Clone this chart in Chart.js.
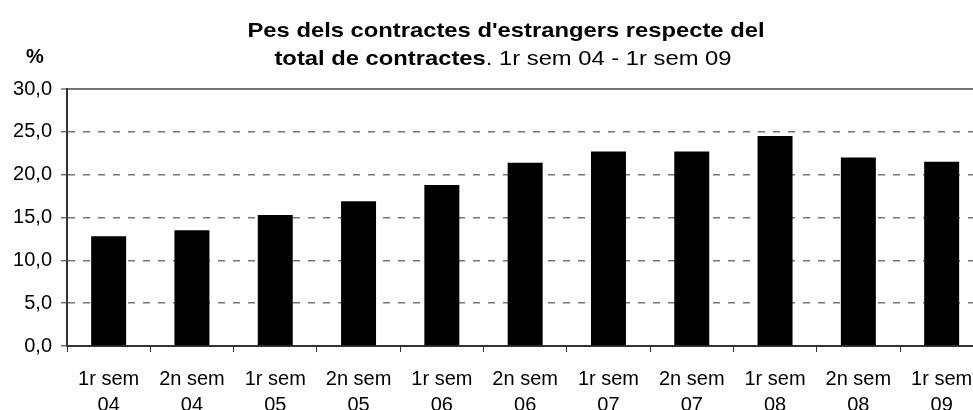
<!DOCTYPE html>
<html>
<head>
<meta charset="utf-8">
<script src="https://cdn.jsdelivr.net/npm/chart.js@4.4.0/dist/chart.umd.min.js"></script>
<style>
  html, body { margin: 0; padding: 0; background: #fff; overflow: hidden; }
  #wrap { width: 990px; height: 410px; }
</style>
</head>
<body>
<div id="wrap"><canvas id="chart" width="990" height="410"></canvas></div>
<script>
// chart data
const categories = [
  ["1r sem", "04"], ["2n sem", "04"],
  ["1r sem", "05"], ["2n sem", "05"],
  ["1r sem", "06"], ["2n sem", "06"],
  ["1r sem", "07"], ["2n sem", "07"],
  ["1r sem", "08"], ["2n sem", "08"],
  ["1r sem", "09"],
];
const shares = [12.8, 13.5, 15.3, 16.9, 18.8, 21.4, 22.7, 22.7, 24.5, 22.0, 21.5];
const yTicks = [0, 5, 10, 15, 20, 25, 30];

const titleLine1 = "Pes dels contractes d'estrangers respecte del";
const titleLine2Bold = "total de contractes";
const titleLine2Rest = ". 1r sem 04 - 1r sem 09";
const unitLabel = "%";

const FONT = "'Liberation Sans', Arial, sans-serif";

// title drawn by hand: mixed bold / normal on the second line
const titlePlugin = {
  id: "titleText",
  afterDraw(chart) {
    const ctx = chart.ctx;
    ctx.save();
    ctx.fillStyle = "#000";
    ctx.textBaseline = "alphabetic";

    ctx.font = "bold 21px " + FONT;
    const w1 = ctx.measureText(titleLine1).width;
    const sx = 517 / w1;
    ctx.save();
    ctx.translate(506, 37);
    ctx.scale(sx, 1);
    ctx.textAlign = "center";
    ctx.fillText(titleLine1, 0, 0);
    ctx.restore();

    const wb = ctx.measureText(titleLine2Bold).width;
    ctx.font = "21px " + FONT;
    const wr = ctx.measureText(titleLine2Rest).width;
    const total = (wb + wr) * sx;
    ctx.save();
    ctx.translate(503 - total / 2, 65);
    ctx.scale(sx, 1);
    ctx.textAlign = "left";
    ctx.font = "bold 21px " + FONT;
    ctx.fillText(titleLine2Bold, 0, 0);
    ctx.font = "21px " + FONT;
    ctx.fillText(titleLine2Rest, wb, 0);
    ctx.restore();

    ctx.font = "bold 20px " + FONT;
    ctx.textAlign = "center";
    ctx.fillText(unitLabel, 35, 63);
    ctx.restore();
  },
};

const chart = new Chart(document.getElementById("chart").getContext("2d"), {
  type: "bar",
  data: {
    labels: categories,
    datasets: [
      {
        data: shares,
        backgroundColor: "#000",
        borderWidth: 0,
        barPercentage: 0.42,
        categoryPercentage: 1,
      },
    ],
  },
  options: {
    responsive: false,
    animation: false,
    layout: { padding: { left: 0, top: 89, right: 6.7, bottom: 0 } },
    plugins: {
      legend: { display: false },
      title: { display: false },
      tooltip: { enabled: false },
    },
    scales: {
      x: {
        offset: true,
        afterFit: (s) => { s.height = 64; },
        grid: {
          offset: true,
          drawOnChartArea: false,
          drawTicks: true,
          tickLength: 6,
          tickColor: "#333",
          tickWidth: 1,
        },
        border: { display: true, color: "#333", width: 2 },
        ticks: {
          color: "#000",
          font: { family: FONT, size: 20, lineHeight: 1.32 },
          padding: 14,
          maxRotation: 0,
          autoSkip: false,
        },
      },
      y: {
        min: 0,
        max: 30,
        afterFit: (s) => { s.width = 67; },
        afterBuildTicks: (s) => { s.ticks = yTicks.map((v) => ({ value: v })); },
        grid: {
          color: (c) => (c.tick && c.tick.value === 0 ? "rgba(0,0,0,0)" : "#767676"),
          lineWidth: (c) => (c.tick && c.tick.value === 30 ? 2 : 1.6),
          drawTicks: true,
          tickLength: 6,
          tickColor: "#333",
          tickWidth: 1,
        },
        border: {
          display: true,
          color: "#333",
          width: 2,
          dash: (c) => (c.tick && c.tick.value > 0 && c.tick.value < 30 ? [7, 8] : []),
        },
        ticks: {
          color: "#000",
          font: { family: FONT, size: 20 },
          padding: 9,
          callback: (v) => Number(v).toFixed(1).replace(".", ","),
        },
      },
    },
  },
  plugins: [titlePlugin],
});
</script>
</body>
</html>
